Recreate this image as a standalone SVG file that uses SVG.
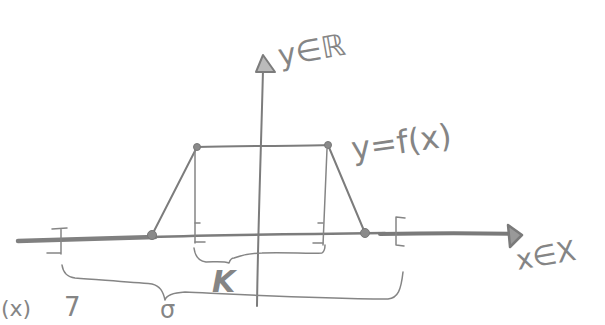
<svg xmlns="http://www.w3.org/2000/svg" width="605" height="325" viewBox="0 0 605 325">
<style>
.p{fill:none;stroke:#7c7c7c;stroke-width:2;stroke-linecap:round;stroke-linejoin:round}
.t{fill:none;stroke:#858585;stroke-width:1.5;stroke-linecap:round;stroke-linejoin:round}
.lbl{fill:#858585;font-family:"DejaVu Sans","Liberation Sans",sans-serif}
.dot{fill:#8a8a8a;stroke:#777;stroke-width:1}
</style>
<rect width="605" height="325" fill="#fff"/>
<g id="axes">
  <path class="p" d="M18,241 C60,240 120,238 155,237" style="stroke:#808080;stroke-width:4.5"/>
  <path class="p" d="M150,237 C220,235 300,234 385,233" style="stroke-width:2.4"/>
  <path class="p" d="M380,234 C430,233 480,233 517,234" style="stroke:#7a7a7a;stroke-width:4"/>
  <path class="p" d="M508,225 L522,235 L510,247 Z" style="stroke:#7a7a7a;stroke-width:2.5;fill:#999"/>
  <path class="p" d="M257,306 C258,230 261,150 263,70"/>
  <path class="p" d="M256,72 L263,55 L275,72 Z" style="fill:#bbb"/>
</g>
<g id="function">
  <path class="p" d="M152,235 L197,147 C240,146 290,146 328,145 L365,233"/>
  <path class="t" d="M195,149 L195,243 M327,149 L323,245"/>
  <circle class="dot" cx="152" cy="235" r="4.5"/>
  <circle class="dot" cx="197" cy="147" r="3.5"/>
  <circle class="dot" cx="328" cy="145" r="3.5"/>
  <circle class="dot" cx="365" cy="233" r="4.5"/>
</g>
<g id="brackets">
  <path class="t" d="M52,229 L67,228 M61,229 L61,254 M47,253 L61,253"/>
  <path class="t" d="M405,218 L396,217 L396,245 L404,246"/>
  <path class="t" d="M200,223 L195,223 M195,242 L205,242"/>
  <path class="t" d="M318,223 L323,223 M313,243 L323,243"/>
</g>
<g id="connectors">
  <path class="t" d="M194,248 C195,256 198,261 206,262 C215,262 224,261 229,263 C230,260 231,258 234,258 C242,255 250,253 262,253 C285,252 310,254 322,253 C325,251 325,248 325,245"/>
  <path class="t" d="M62,265 C63,272 66,277 75,278 C100,280 130,282 152,284 C160,286 163,291 165,300 C166,296 170,293 185,292 C230,294 300,298 388,299 C398,298 401,290 403,272"/>
</g>
<g id="labels">
  <text class="lbl" x="280" y="66" font-size="30" transform="rotate(-10 280 66)">y∈ℝ</text>
  <text class="lbl" x="353" y="160" font-size="32" transform="rotate(-8 353 160)">y=f(x)</text>
  <text class="lbl" x="518" y="270" font-size="28" transform="rotate(-10 518 270)">x∈X</text>
  <text class="lbl" x="212" y="292" font-size="30" font-weight="bold" font-style="italic">K</text>
  <text class="lbl" x="1" y="316" font-size="22">(x)</text>
  <text class="lbl" x="64" y="316" font-size="26">7</text>
  <text class="lbl" x="160" y="318" font-size="24">σ</text>
</g>
</svg>
